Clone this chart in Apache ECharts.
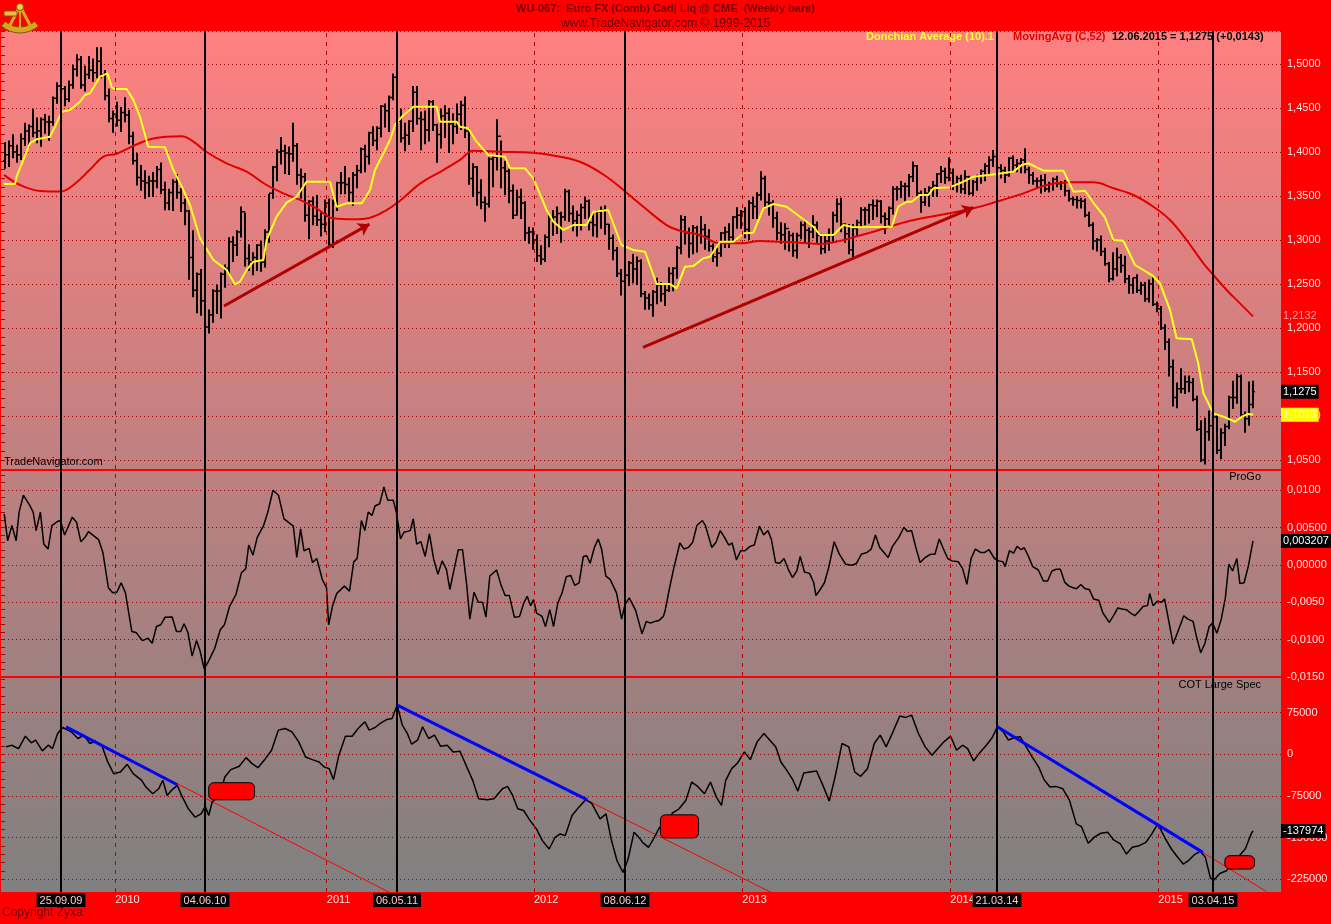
<!DOCTYPE html>
<html><head><meta charset="utf-8">
<script src="https://cdn.jsdelivr.net/npm/echarts/dist/echarts.min.js"></script>
<style>html,body{margin:0;padding:0;background:#808080;overflow:hidden}#chart{width:1331px;height:924px}</style>
</head><body><div id="chart"></div>
<script>
// ---------- DATA (weekly bars, week index 0 = 19.06.2009 ... 312 = 12.06.2015) ----------
const firstOpen = 1.390;
const closes = [
1.397,1.407,1.400,1.397,1.415,1.424,1.429,1.422,1.424,1.437,
1.434,1.434,1.461,1.475,1.472,1.460,1.476,1.494,1.505,1.476,
1.488,1.493,1.490,1.503,1.488,1.464,1.438,1.443,1.436,1.445,
1.442,1.418,1.390,1.371,1.367,1.365,1.367,1.367,1.380,1.357,
1.342,1.354,1.366,1.354,1.342,1.333,1.280,1.243,1.261,1.231,
1.201,1.215,1.242,1.242,1.261,1.268,1.298,1.294,1.309,1.332,
1.279,1.275,1.280,1.294,1.275,1.309,1.353,1.383,1.400,1.401,
1.399,1.398,1.407,1.374,1.372,1.328,1.344,1.327,1.323,1.318,
1.342,1.295,1.342,1.365,1.365,1.363,1.354,1.374,1.379,1.403,
1.395,1.422,1.413,1.427,1.452,1.447,1.462,1.485,1.435,1.416,
1.419,1.435,1.468,1.438,1.437,1.425,1.457,1.431,1.420,1.441,
1.444,1.432,1.429,1.443,1.453,1.424,1.370,1.383,1.354,1.343,
1.341,1.392,1.394,1.418,1.382,1.378,1.356,1.328,1.349,1.342,
1.308,1.309,1.300,1.282,1.278,1.303,1.324,1.326,1.330,1.326,
1.355,1.330,1.322,1.328,1.337,1.344,1.320,1.317,1.332,1.334,
1.318,1.302,1.288,1.262,1.253,1.260,1.274,1.267,1.276,1.239,
1.234,1.226,1.241,1.249,1.239,1.243,1.262,1.268,1.291,1.323,
1.308,1.296,1.314,1.305,1.312,1.304,1.293,1.281,1.285,1.308,
1.309,1.303,1.326,1.328,1.332,1.312,1.342,1.338,1.351,1.370,
1.343,1.342,1.325,1.308,1.306,1.313,1.305,1.288,1.305,1.317,
1.311,1.309,1.317,1.305,1.290,1.299,1.305,1.328,1.341,1.318,
1.307,1.289,1.313,1.320,1.334,1.334,1.340,1.339,1.344,1.327,
1.324,1.336,1.358,1.358,1.361,1.361,1.372,1.384,1.353,1.343,
1.353,1.359,1.362,1.375,1.378,1.371,1.376,1.363,1.370,1.358,
1.372,1.353,1.366,1.373,1.378,1.384,1.391,1.395,1.382,1.379,
1.374,1.393,1.385,1.387,1.391,1.380,1.374,1.367,1.367,1.368,
1.358,1.364,1.369,1.364,1.365,1.356,1.347,1.346,1.345,1.344,
1.328,1.317,1.299,1.300,1.287,1.273,1.256,1.267,1.280,1.271,
1.256,1.249,1.257,1.243,1.249,1.233,1.250,1.227,1.222,1.200,
1.184,1.156,1.121,1.131,1.131,1.139,1.138,1.119,1.085,1.050,
1.082,1.089,1.099,1.061,1.081,1.088,1.121,1.121,1.145,1.101,
1.097,1.1132,1.1275];
const highs = [
1.410,1.412,1.419,1.407,1.420,1.432,1.430,1.448,1.438,1.438,
1.442,1.440,1.462,1.478,1.488,1.474,1.480,1.498,1.510,1.508,
1.497,1.508,1.505,1.518,1.518,1.492,1.471,1.446,1.456,1.450,
1.461,1.447,1.422,1.398,1.384,1.378,1.372,1.376,1.383,1.387,
1.365,1.357,1.368,1.374,1.358,1.346,1.333,1.310,1.262,1.266,
1.237,1.220,1.243,1.248,1.262,1.271,1.302,1.303,1.310,1.337,
1.330,1.294,1.285,1.294,1.298,1.311,1.351,1.383,1.402,1.416,
1.407,1.405,1.432,1.409,1.380,1.375,1.344,1.348,1.350,1.330,
1.345,1.346,1.345,1.365,1.376,1.383,1.370,1.376,1.384,1.404,
1.407,1.422,1.428,1.428,1.452,1.454,1.463,1.488,1.498,1.448,
1.432,1.435,1.474,1.474,1.445,1.446,1.458,1.458,1.431,1.448,
1.452,1.449,1.443,1.454,1.457,1.462,1.426,1.386,1.383,1.368,
1.348,1.393,1.394,1.436,1.412,1.389,1.380,1.362,1.356,1.357,
1.343,1.314,1.313,1.305,1.293,1.305,1.329,1.333,1.337,1.331,
1.357,1.356,1.338,1.332,1.340,1.348,1.345,1.329,1.333,1.337,
1.338,1.317,1.305,1.291,1.266,1.266,1.275,1.283,1.280,1.277,
1.241,1.238,1.242,1.256,1.251,1.248,1.268,1.268,1.292,1.327,
1.326,1.313,1.316,1.315,1.326,1.317,1.311,1.295,1.290,1.308,
1.314,1.318,1.326,1.336,1.333,1.336,1.344,1.348,1.353,1.377,
1.372,1.352,1.344,1.331,1.319,1.318,1.309,1.307,1.307,1.320,
1.322,1.313,1.327,1.320,1.306,1.304,1.312,1.331,1.346,1.347,
1.318,1.317,1.317,1.322,1.336,1.336,1.340,1.345,1.345,1.344,
1.330,1.337,1.360,1.360,1.366,1.364,1.374,1.388,1.384,1.355,
1.358,1.360,1.366,1.375,1.383,1.381,1.393,1.380,1.372,1.373,
1.378,1.372,1.367,1.373,1.379,1.386,1.394,1.401,1.399,1.385,
1.382,1.393,1.395,1.391,1.392,1.403,1.382,1.376,1.370,1.373,
1.374,1.365,1.370,1.372,1.366,1.367,1.356,1.348,1.349,1.347,
1.346,1.331,1.319,1.301,1.304,1.290,1.274,1.285,1.290,1.283,
1.281,1.259,1.256,1.260,1.251,1.251,1.254,1.258,1.229,1.224,
1.203,1.187,1.163,1.137,1.153,1.145,1.145,1.142,1.122,1.094,
1.097,1.105,1.100,1.100,1.085,1.090,1.122,1.139,1.147,1.146,
1.104,1.138,1.139];
const lows = [
1.382,1.384,1.394,1.389,1.392,1.408,1.406,1.418,1.411,1.407,
1.422,1.414,1.431,1.456,1.463,1.453,1.458,1.473,1.487,1.473,
1.470,1.484,1.481,1.485,1.485,1.460,1.435,1.423,1.430,1.424,
1.435,1.410,1.387,1.363,1.357,1.348,1.350,1.350,1.360,1.353,
1.335,1.335,1.334,1.348,1.333,1.318,1.256,1.236,1.218,1.215,
1.191,1.195,1.207,1.217,1.212,1.247,1.262,1.276,1.283,1.304,
1.271,1.266,1.261,1.266,1.265,1.270,1.298,1.348,1.368,1.387,
1.376,1.375,1.390,1.364,1.348,1.322,1.302,1.318,1.317,1.305,
1.310,1.294,1.292,1.334,1.353,1.353,1.345,1.340,1.360,1.377,
1.378,1.387,1.408,1.403,1.418,1.429,1.424,1.460,1.432,1.412,
1.402,1.409,1.424,1.432,1.403,1.410,1.413,1.425,1.389,1.405,
1.417,1.400,1.410,1.422,1.426,1.417,1.364,1.350,1.340,1.336,
1.322,1.338,1.361,1.380,1.360,1.352,1.343,1.325,1.329,1.325,
1.300,1.297,1.290,1.276,1.273,1.276,1.293,1.306,1.308,1.298,
1.323,1.322,1.311,1.305,1.312,1.325,1.312,1.305,1.304,1.314,
1.307,1.290,1.278,1.259,1.238,1.246,1.249,1.252,1.250,1.236,
1.222,1.222,1.214,1.228,1.231,1.226,1.242,1.243,1.257,1.285,
1.296,1.281,1.285,1.287,1.297,1.290,1.288,1.276,1.271,1.282,
1.292,1.292,1.297,1.314,1.314,1.303,1.301,1.325,1.325,1.346,
1.338,1.329,1.315,1.301,1.297,1.290,1.288,1.282,1.280,1.302,
1.297,1.292,1.303,1.298,1.285,1.286,1.289,1.298,1.321,1.310,
1.298,1.285,1.281,1.305,1.316,1.318,1.320,1.324,1.327,1.320,
1.308,1.318,1.330,1.346,1.349,1.345,1.350,1.367,1.351,1.332,
1.340,1.339,1.350,1.350,1.366,1.365,1.368,1.358,1.355,1.354,
1.353,1.352,1.351,1.357,1.365,1.368,1.374,1.384,1.377,1.371,
1.366,1.373,1.379,1.378,1.377,1.377,1.365,1.364,1.360,1.354,
1.356,1.355,1.357,1.361,1.358,1.351,1.345,1.340,1.337,1.337,
1.327,1.316,1.290,1.288,1.283,1.272,1.253,1.255,1.260,1.264,
1.252,1.240,1.240,1.241,1.239,1.231,1.230,1.226,1.219,1.199,
1.176,1.146,1.112,1.110,1.127,1.126,1.128,1.118,1.084,1.049,
1.046,1.073,1.076,1.058,1.052,1.067,1.086,1.109,1.115,1.100,
1.082,1.090,1.110];

// MovingAvg (C,52): [week, value]
const maPoints = [[-0.25,1.374],[3.75,1.3625],[8.75,1.3557],[13.75,1.355],[17.1,1.3625],[21.25,1.380],[24.6,1.3947],[27.9,1.398],[32.1,1.407],[36.25,1.4144],[40.4,1.4174],[44.2,1.418],[47.1,1.4117],[50.4,1.400],[55.4,1.387],[60.4,1.3777],[65.4,1.3625],[69.6,1.353],[73.75,1.3455],[77.9,1.336],[82.1,1.3246],[87.1,1.3235],[91.25,1.3253],[95.4,1.334],[98.75,1.3445],[103.75,1.364],[109.6,1.3795],[113.75,1.391],[117.1,1.4015],[123.75,1.4004],[132.1,1.3992],[138.75,1.3947],[144.6,1.3872],[150.4,1.3719],[154.6,1.3568],[159.6,1.3378],[165.4,1.317],[168.75,1.3106],[173.75,1.3057],[178.75,1.2962],[183.75,1.2962],[188.75,1.2989],[193.75,1.298],[198.75,1.297],[203.75,1.2955],[208.75,1.299],[212,1.303],[217.1,1.3094],[225.4,1.3208],[233.75,1.3284],[242.1,1.336],[247.9,1.3435],[254.6,1.353],[260.4,1.3625],[265.4,1.3655],[272.1,1.3655],[277.1,1.3588],[282.1,1.3511],[287.1,1.3378],[291.25,1.3227],[295.4,1.30],[299.6,1.2735],[302.1,1.2602],[305.4,1.2432],[308.75,1.228],[312,1.2132]];

// Donchian Average (10)
const donchianPoints = [[-0.25,1.3636],[2.5,1.3636],[2.9,1.372],[4.6,1.391],[6.25,1.41],[7.9,1.4144],[11.25,1.4174],[12.5,1.4288],[14.2,1.4458],[16.25,1.4477],[18.75,1.4572],[20,1.4648],[21.25,1.4667],[23.75,1.4856],[25.6,1.4894],[26.7,1.4735],[27.5,1.4716],[30.4,1.4716],[32.1,1.459],[33.75,1.440],[35.8,1.406],[40,1.4053],[42.1,1.3795],[44.2,1.3606],[46.25,1.3398],[48.75,1.302],[52.1,1.2773],[55.4,1.266],[57.5,1.2497],[58.75,1.2527],[60.4,1.266],[62.1,1.2754],[64.6,1.2773],[65.4,1.30],[67.9,1.3265],[70.4,1.3424],[72.9,1.3492],[75.4,1.3663],[81.25,1.3663],[82.9,1.3378],[85.4,1.3417],[89.2,1.3417],[91.25,1.3568],[92.5,1.3795],[94.6,1.3985],[96.25,1.4136],[97.5,1.4307],[99.2,1.440],[102.1,1.4515],[107.9,1.4515],[108.75,1.4344],[112.9,1.4344],[113.75,1.4288],[115.8,1.4269],[117.9,1.4117],[120.8,1.3966],[125,1.3947],[126.25,1.3814],[130,1.3814],[132.1,1.3701],[135.4,1.3341],[137.1,1.3208],[139.6,1.3114],[142.1,1.317],[145.4,1.317],[147.1,1.3322],[150.8,1.3341],[154.1,1.2943],[157.1,1.2886],[160,1.2867],[162.9,1.25],[166.25,1.25],[167.9,1.2451],[170,1.2697],[172.1,1.2705],[174.6,1.2792],[176.25,1.281],[178.75,1.298],[182.1,1.298],[184.6,1.3076],[187.1,1.3083],[189.6,1.336],[192.1,1.3409],[195.4,1.3378],[198.75,1.3265],[202.1,1.3151],[203.75,1.3057],[207.1,1.3057],[209.6,1.317],[212.1,1.3144],[221.7,1.3151],[223.3,1.3378],[225.4,1.3435],[226.7,1.3435],[228.75,1.3511],[230.8,1.3511],[232.1,1.3588],[236.25,1.3599],[239.6,1.3663],[242.1,1.372],[248,1.375],[252.1,1.3777],[254.2,1.3852],[255.8,1.3872],[259.6,1.3788],[264.6,1.3788],[267.1,1.3549],[270,1.356],[272.5,1.3398],[275,1.3258],[277.1,1.30],[279.6,1.2992],[282.5,1.2716],[286.7,1.2602],[288.75,1.2508],[291.25,1.2205],[292.9,1.1883],[296.7,1.1872],[298.3,1.1599],[299.6,1.1258],[302.1,1.103],[304.6,1.0992],[307.5,1.0935],[309.2,1.0992],[310.8,1.1023],[312,1.1013]];

// ProGo indicator
const proGoPoints = [[-0.19,0.00684],[0.66,0.00324],[1.73,0.00527],[2.79,0.00324],[3.53,0.00707],[4.6,0.00932],[6.19,0.00797],[7.04,0.00707],[7.78,0.00459],[8.85,0.00707],[9.7,0.00279],[10.76,0.00212],[11.72,0.00527],[13.1,0.00581],[13.84,0.00594],[14.9,0.00401],[16.82,0.00639],[17.88,0.00572],[18.95,0.00311],[20.01,0.00369],[20.86,0.00446],[22.13,0.00392],[23.41,0.00338],[24.47,0.00167],[25.85,-0.00306],[26.92,-0.00374],[27.98,-0.00365],[29.04,-0.00239],[30.11,-0.00374],[31.7,-0.00891],[32.76,-0.00905],[34.36,-0.01013],[35.74,-0.00981],[36.8,-0.01049],[37.87,-0.00824],[38.93,-0.00801],[39.99,-0.00702],[41.8,-0.00698],[42.86,-0.00891],[43.92,-0.00891],[44.77,-0.00788],[45.73,-0.00905],[46.79,-0.0122],[47.86,-0.01013],[48.71,-0.01139],[49.77,-0.01386],[50.83,-0.01296],[52.43,-0.01116],[53.81,-0.00869],[54.87,-0.00801],[56.15,-0.00554],[57.74,-0.00396],[59.12,-0.00104],[60.19,-0.0005],[60.93,0.00266],[62.0,0.00131],[63.06,0.00369],[64.65,0.00527],[65.71,0.00707],[66.99,0.00999],[68.37,0.00932],[69.75,0.00617],[72.09,0.00518],[72.94,0.00099],[73.9,0.00482],[74.75,0.00189],[76.03,0.00221],[76.88,0.00032],[77.94,0.00086],[79.32,-0.00194],[80.38,-0.00306],[80.91,-0.00801],[81.87,-0.00554],[82.93,-0.00383],[84.85,-0.00284],[86.12,-0.00351],[87.19,0.00041],[88.04,0.00086],[89.1,0.00594],[89.95,0.00459],[90.8,0.00707],[91.76,0.00662],[92.5,0.00788],[93.67,0.00819],[94.73,0.01044],[95.69,0.00864],[97.07,0.00864],[97.82,0.00707],[98.88,0.00347],[99.73,0.00437],[101.32,0.00459],[102.07,0.00617],[102.92,0.00279],[103.98,0.00311],[105.04,0.00113],[106.1,0.00414],[107.17,0.00077],[108.23,-0.00126],[109.29,0.00054],[110.36,-0.00059],[111.21,-0.00329],[112.27,-0.00059],[113.33,0.00203],[114.4,0.00203],[115.46,-0.00284],[116.2,-0.00725],[117.27,-0.00365],[118.33,-0.005],[119.39,-0.005],[120.24,-0.00698],[121.2,-0.00149],[122.9,-0.00068],[123.96,-0.00261],[125.03,-0.0041],[126.09,-0.0041],[127.36,-0.00702],[128.64,-0.00689],[129.7,-0.00509],[130.55,-0.00419],[131.4,-0.00545],[132.15,-0.00464],[132.89,-0.00644],[134.27,-0.00689],[135.12,-0.00824],[136.19,-0.00599],[137.14,-0.00824],[138.21,-0.00509],[139.27,-0.00374],[140.33,-0.00158],[141.4,-0.0014],[142.46,-0.00275],[143.52,-0.00239],[144.59,0.00113],[145.44,0.00122],[146.28,0.00023],[147.35,0.00234],[148.3,0.00347],[149.15,0.00212],[150.22,-0.00149],[151.28,-0.00194],[152.87,-0.00374],[154.15,-0.00725],[155.0,-0.00531],[156.06,-0.00441],[157.66,-0.00608],[159.25,-0.00923],[160.31,-0.00756],[161.38,-0.00779],[162.44,-0.00756],[163.5,-0.00743],[164.57,-0.00689],[165.0,-0.00621],[166.06,-0.00329],[167.13,-0.00059],[168.72,0.00293],[169.78,0.00212],[170.85,0.00234],[171.91,0.00302],[172.97,0.00527],[174.35,0.00594],[175.1,0.00527],[176.69,0.00234],[177.76,0.00302],[178.82,0.00459],[179.88,0.00369],[180.94,0.00266],[181.79,0.00293],[182.86,0.00068],[183.92,0.00189],[184.98,0.00189],[186.26,0.00248],[187.32,0.00266],[188.6,0.00518],[189.66,0.00401],[190.72,0.00459],[191.57,0.00347],[192.64,0.00032],[193.7,0.00023],[194.76,0.00086],[195.82,-0.00059],[196.89,-0.00171],[197.95,-0.00081],[198.8,0.00113],[199.86,-0.00095],[201.14,-0.00113],[202.2,-0.00239],[202.73,-0.0041],[203.8,-0.00329],[204.86,-0.00239],[205.92,-0.00036],[207.3,0.00311],[208.58,0.00144],[210.17,0.00009],[211.77,-0.00005],[212.83,0.00018],[214.11,0.00144],[215.49,0.00167],[216.55,0.00212],[217.61,0.00401],[218.68,0.00234],[219.74,0.00167],[220.8,0.00099],[221.87,0.00248],[223.46,0.00369],[224.74,0.00504],[225.59,0.00446],[226.65,0.00459],[227.71,0.00234],[228.78,0.00032],[230.05,0.00099],[231.43,0.00144],[232.5,0.00144],[233.56,0.00347],[234.62,0.00212],[235.68,0.00086],[236.75,0.00054],[238.34,0.00041],[239.4,-0.0005],[240.47,-0.00261],[241.53,0.00086],[242.59,0.00212],[243.87,0.00167],[244.93,0.00167],[246.0,0.00203],[247.38,0.00086],[248.44,0.00054],[249.5,0.00041],[250.03,-0.00023],[251.1,0.00189],[252.16,0.00158],[253.01,0.00248],[254.07,0.00203],[254.82,0.0023],[255.88,0.00113],[256.94,-0.00023],[258.33,-0.00068],[259.6,-0.00216],[260.66,-0.00216],[261.73,-0.00081],[262.79,-0.00059],[263.85,-0.00059],[264.91,-0.0023],[265.98,-0.00284],[267.04,-0.00306],[267.89,-0.0032],[268.95,-0.00261],[270.02,-0.0032],[271.08,-0.00329],[272.14,-0.00455],[273.42,-0.00473],[274.48,-0.00644],[276.07,-0.0077],[277.14,-0.0068],[278.2,-0.00576],[279.26,-0.0059],[280.33,-0.00599],[281.39,-0.00644],[282.45,-0.0068],[283.52,-0.00621],[284.58,-0.00554],[285.64,-0.00545],[286.17,-0.00383],[287.02,-0.00545],[288.09,-0.00486],[289.15,-0.005],[289.89,-0.00455],[290.96,-0.00756],[292.02,-0.01058],[293.4,-0.00869],[294.68,-0.0068],[295.74,-0.00725],[297.02,-0.00756],[297.87,-0.00959],[298.93,-0.01175],[299.99,-0.01049],[301.05,-0.00824],[301.9,-0.00779],[302.97,-0.00914],[304.03,-0.00734],[305.09,-0.00441],[305.94,0.00009],[306.9,-0.00081],[307.96,0.00086],[308.71,-0.00248],[309.77,-0.00239],[310.84,-0.00014],[312,0.003207]];

// COT Large Spec (net contracts)
const cotPoints = [[0.21,13253],[1.7,16265],[3.39,10241],[5.09,32530],[6.58,20482],[7.64,25301],[9.34,6024],[10.82,16265],[11.88,10241],[13.16,37349],[14.43,48192],[16.55,40361],[18.25,28313],[19.74,34337],[21.22,19277],[22.5,23494],[24.19,16265],[25.68,-13855],[27.16,-34939],[28.86,-31927],[30.56,-18072],[32.05,-34939],[34.17,-46987],[35.23,-59035],[36.93,-71083],[38.41,-62047],[39.47,-46987],[40.53,-74095],[41.6,-65059],[43.08,-56023],[44.14,-74095],[45.84,-98191],[47.54,-113251],[49.02,-107227],[50.08,-93974],[50.93,-110239],[51.78,-86143],[52.84,-78312],[53.9,-68071],[54.96,-40963],[56.45,-27710],[58.57,-21686],[60.27,-6024],[61.76,-16867],[63.24,-24096],[64.94,-9638],[66.64,7229],[68.33,43373],[70.03,46385],[71.73,40361],[73.43,22289],[75.13,-4819],[76.82,-9638],[78.52,-13855],[79.8,-22891],[81.07,-25903],[82.13,-45782],[83.4,-3614],[85.1,32530],[86.8,32530],[88.28,46385],[89.98,58433],[91.04,43373],[92.53,48192],[94.02,56626],[95.5,62650],[96.77,64457],[98.05,88553],[99.32,52409],[100.59,37349],[101.65,18072],[103.14,25301],[104.41,49397],[105.9,28313],[107.38,34337],[108.87,14458],[110.57,16265],[112.05,4217],[113.75,5422],[115.45,-22891],[116.93,-46987],[118.42,-80119],[120.54,-81926],[122.24,-80119],[124.36,-62047],[125.64,-57830],[126.91,-74095],[128.18,-98191],[129.67,-101203],[131.15,-118070],[132.85,-134335],[134.34,-155419],[136.04,-170479],[137.52,-149395],[138.79,-143371],[140.07,-146383],[141.76,-110239],[143.46,-95179],[145.16,-81926],[146.65,-87950],[148.77,-116263],[150.26,-107227],[151.53,-152407],[153.01,-191563],[154.5,-212647],[155.77,-188551],[157.26,-140359],[158.32,-148190],[159.38,-158431],[160.87,-167467],[162.14,-152407],[163.63,-131323],[165.11,-140359],[166.81,-106023],[168.51,-98191],[170.2,-83131],[171.69,-49999],[173.17,-57830],[174.87,-71083],[176.36,-49999],[177.84,-77107],[179.12,-92167],[180.18,-46987],[181.67,-25903],[183.15,-15662],[184.85,4217],[186.33,-9638],[188.03,22289],[189.73,37349],[191.22,25301],[192.7,13253],[193.97,-13855],[195.46,-28915],[196.94,-45782],[198.22,-66264],[199.7,-33734],[201.19,-31927],[202.89,-30120],[204.58,-57830],[206.07,-84336],[207.55,-39758],[209.25,19277],[210.95,13253],[212.44,-31927],[213.92,-39758],[215.62,-25903],[217.32,19277],[218.8,34337],[220.29,13253],[221.99,40361],[223.68,68674],[225.17,66264],[226.65,70481],[228.35,37349],[230.05,13253],[231.75,-1807],[233.23,10241],[234.72,22289],[236.41,32530],[237.9,7229],[239.38,16265],[240.66,10241],[242.15,-12048],[243.63,2410],[245.33,16265],[246.82,30120],[248.09,49397],[249.58,40361],[250.85,25301],[252.33,30120],[253.82,31325],[255.3,13253],[256.79,-4819],[258.49,-24096],[259.76,-45782],[261.24,-59035],[262.73,-57830],[264.43,-62047],[266.13,-83131],[267.83,-125299],[269.1,-130118],[270.8,-160238],[272.5,-148190],[273.98,-142166],[275.68,-140359],[277.17,-154214],[278.85,-161443],[280.35,-179515],[281.83,-167467],[283.53,-164455],[285.23,-158431],[286.71,-143371],[288.2,-125299],[289.9,-149395],[291.6,-170479],[293.08,-184334],[294.57,-197587],[295.84,-191563],[297.33,-180720],[298.82,-174696],[300.09,-185539],[301.36,-222888],[302.2,-226502],[303.69,-214454],[305.39,-209635],[306.87,-191563],[308.57,-182527],[310.06,-170479],[311.54,-143371],[312,-137974]];

// annotations (data space)
const priceArrows = [[[54.75,1.225],[91.1,1.318]],[[159.5,1.178],[242.1,1.337]]];
const cotTrendlines = [[[15.28,49397],[43.08,-54818]],[[98.05,88553],[145.58,-81926]],[[248.09,49397],[299.45,-176503]]];
const cotExtensions = [[[15.28,49397],[96.2,-249000]],[[98.05,88553],[191.64,-249000]],[[248.09,49397],[315.37,-246984]]];
const cotSignalBoxes = [[50.93,62.39,-51204,-81926],[163.84,173.39,-109034,-150600],[304.96,312.39,-182527,-206623]];
const eventLines = [[14,'25.09.09'],[50,'04.06.10'],[98,'06.05.11'],[155,'08.06.12'],[248,'21.03.14'],[302,'03.04.15']];
const yearLines = [[27.6,'2010'],[80.4,'2011'],[132.3,'2012'],[184.4,'2013'],[236.4,'2014'],[288.4,'2015']];
const proGoTickLabels = [[0.01,'0,0100'],[0.005,'0,00500'],[0,'0,00000'],[-0.005,'-0,0050'],[-0.01,'-0,0100'],[-0.015,'-0,0150']];

// ---------- CHART ----------
const FONT = '"Liberation Sans", Arial, sans-serif';
const ohlc = closes.map((c, k) => [k, k === 0 ? firstOpen : closes[k - 1], highs[k], lows[k], c]);
const X = {type:'value', min:-1.25, max:319, show:false};
const tickStyle = {show:true, inside:true, length:10, lineStyle:{color:'#B00000', width:1}};
const minorStyle = {show:true, splitNumber:5, length:5, lineStyle:{color:'#B00000', width:1}};
const gridLine = {show:true, lineStyle:{type:[1,3], color:'#A00000', width:1}};
const lblBase = {color:'#FFE6E6', fontSize:11, fontFamily:FONT, margin:6, showMaxLabel:false};

const chart = echarts.init(document.getElementById('chart'), null, {renderer:'canvas'});

function staticGraphics() {
  const T = (x, y, text, fill, font, align) => ({type:'text', x, y, z:3,
    style:{text, fill, font, align:align||'left', textAlign:align||'left', verticalAlign:'middle', textVerticalAlign:'middle'}});
  const gold = '#D9A520', dark = '#7A5A10';
  return [
    {type:'rect', z:-10, shape:{x:0,y:31,width:1331,height:861}, style:{fill:new echarts.graphic.LinearGradient(0,0,0,1,[{offset:0,color:'#FF8080'},{offset:1,color:'#808080'}])}},
    {type:'rect', z:-5, shape:{x:0,y:0,width:1331,height:31}, style:{fill:'#FF0000'}},
    {type:'rect', z:-5, shape:{x:1281,y:0,width:50,height:924}, style:{fill:'#FF0000'}},
    {type:'rect', z:-5, shape:{x:0,y:892,width:1331,height:32}, style:{fill:'#FF0000'}},
    {type:'rect', z:-5, shape:{x:0,y:31,width:1,height:861}, style:{fill:'#FF0000'}},
    {type:'rect', z:1, shape:{x:0,y:469,width:1281,height:2}, style:{fill:'#FF0000'}},
    {type:'rect', z:1, shape:{x:0,y:676,width:1281,height:2}, style:{fill:'#FF0000'}},
    // sextant logo
    {type:'sector', z:3, shape:{cx:20,cy:5,r:28,r0:22,startAngle:Math.PI*0.27,endAngle:Math.PI*0.73}, style:{fill:gold, stroke:dark, lineWidth:1}},
    {type:'polyline', z:3, shape:{points:[[8,29],[20,6],[32,29]]}, style:{stroke:gold, lineWidth:3, fill:null}},
    {type:'line', z:3, shape:{x1:20,y1:6,x2:20,y2:30}, style:{stroke:gold, lineWidth:2}},
    {type:'rect', z:4, shape:{x:4,y:11,width:13,height:5,r:1}, style:{fill:'#E8C048', stroke:dark, lineWidth:1}},
    {type:'circle', z:4, shape:{cx:20,cy:7,r:3.5}, style:{fill:'#F4D03F', stroke:dark, lineWidth:1}},
    T(665.5, 9, 'WU-067:  Euro FX (Comb) Cadj Liq @ CME  (Weekly bars)', '#7A0000', 'bold 11px '+FONT, 'center'),
    T(665.5, 24, 'www.TradeNavigator.com \u00A9 1999-2015', '#6A0000', '12px '+FONT, 'center'),
    T(866, 37, 'Donchian Average (10).1', '#FFFF33', 'bold 11px '+FONT),
    T(1013, 37, 'MovingAvg (C,52)', '#E00000', 'bold 11px '+FONT),
    T(1112, 37, '12.06.2015 = 1,1275 (+0,0143)', '#000000', 'bold 11px '+FONT),
    T(4, 462, 'TradeNavigator.com', '#000000', '11px '+FONT),
    T(1261, 477, 'ProGo', '#000000', '11px '+FONT, 'right'),
    T(1261, 685, 'COT Large Spec', '#000000', '11px '+FONT, 'right'),
    T(2, 913, 'Copyright Zyxa', '#700000', '12px '+FONT)
  ];
}

const lineS = (name, xi, data, color, width, extra) => Object.assign({
  name, type:'line', xAxisIndex:xi, yAxisIndex:xi, data, showSymbol:false, symbol:'none', clip:false, silent:true,
  lineStyle:{color, width}, z:4, animation:false}, extra||{});

const series = [
  {type:'custom', xAxisIndex:0, yAxisIndex:0, data:ohlc, clip:false, silent:true, z:3,
   encode:{x:0, y:[1,2,3,4]},
   renderItem:(params, api) => {
     const k = api.value(0);
     const po = api.coord([k, api.value(1)]), ph = api.coord([k, api.value(2)]);
     const pl = api.coord([k, api.value(3)]), pc = api.coord([k, api.value(4)]);
     return {type:'group', children:[
       {type:'line', shape:{x1:ph[0], y1:ph[1]-1, x2:pl[0], y2:pl[1]+1}, style:{stroke:'#000', lineWidth:2}},
       {type:'line', shape:{x1:po[0]-2, y1:po[1], x2:po[0], y2:po[1]}, style:{stroke:'#000', lineWidth:1.5}},
       {type:'line', shape:{x1:pc[0], y1:pc[1], x2:pc[0]+2, y2:pc[1]}, style:{stroke:'#000', lineWidth:1.5}}
     ]};
   }},
  lineS('MovingAvg (C,52)', 0, maPoints, '#E00000', 2, {smooth:0.4}),
  lineS('Donchian Average (10)', 0, donchianPoints, '#FFFF20', 2),
  lineS('arrows', 0, [[-10, 1.3]], '#B00000', 0, {markLine:{silent:true, animation:false, symbol:['none','arrow'], symbolSize:11,
     label:{show:false}, lineStyle:{color:'#B00000', width:3, type:'solid'},
     data: priceArrows.map(a => [{coord:a[0]}, {coord:a[1]}])}}),
  lineS('ProGo', 1, proGoPoints, '#000000', 1.5),
  ...cotExtensions.map((l, i) => lineS('ext'+i, 2, l, '#FF0000', 1, {z:3})),
  ...cotTrendlines.map((l, i) => lineS('trend'+i, 2, l, '#0000FF', 3, {z:5})),
  lineS('COT Large Spec', 2, cotPoints, '#000000', 1.5, {z:4}),
  {type:'custom', xAxisIndex:2, yAxisIndex:2, data:cotSignalBoxes, clip:false, silent:true, z:6,
   encode:{x:[0,1], y:[2,3]},
   renderItem:(params, api) => {
     const a = api.coord([api.value(0), api.value(2)]), b = api.coord([api.value(1), api.value(3)]);
     return {type:'rect', shape:{x:a[0], y:a[1], width:b[0]-a[0], height:b[1]-a[1], r:5}, style:{fill:'#FF0000', stroke:'#000', lineWidth:1}};
   }},
  lineS('years', 3, [[-10, 0.5]], '#000', 0, {z:1, markLine:{silent:true, animation:false, symbol:['none','none'],
     data: yearLines.map(y => ({xAxis:y[0], lineStyle:{color:'#C00000', width:1, type:[4,5]},
       label:{show:true, position:'start', formatter:y[1], color:'#FFE6E6', fontSize:11, fontFamily:FONT, padding:[0,0,0,24], distance:2}}))}}),
  lineS('events', 3, [[-10, 0.5]], '#000', 0, {z:7, markLine:{silent:true, animation:false, symbol:['none','none'],
     data: eventLines.map(e => ({xAxis:e[0], lineStyle:{color:'#000000', width:2, type:'solid'},
       label:{show:true, position:'start', formatter:e[1], color:'#FFC8C8', backgroundColor:'#000', fontSize:11, fontFamily:FONT, padding:[2,3,1,3], distance:1}}))}})
];

const option = {
  animation:false,
  backgroundColor:'transparent',
  grid:[
    {left:0, width:1281, top:31, height:429},
    {left:0, width:1281, top:470, height:207},
    {left:0, width:1281, top:677, height:202.3},
    {left:0, width:1281, top:31, height:861}
  ],
  xAxis:[0,1,2,3].map(i => Object.assign({gridIndex:i}, X)),
  yAxis:[
    {gridIndex:0, type:'value', position:'right', min:1.05, max:1.5375, interval:0.05, axisLine:{show:false},
     axisTick:tickStyle, minorTick:minorStyle, splitLine:gridLine,
     axisLabel:Object.assign({}, lblBase, {formatter:v => v.toFixed(4).replace('.', ',')})},
    {gridIndex:1, type:'value', position:'right', min:-0.015, max:0.0127, interval:0.005, axisLine:{show:false},
     axisTick:tickStyle, minorTick:minorStyle, splitLine:gridLine,
     axisLabel:Object.assign({}, lblBase, {formatter:v => { const t = proGoTickLabels.find(p => Math.abs(p[0]-v) < 1e-9); return t ? t[1] : ''; }})},
    {gridIndex:2, type:'value', position:'right', min:-225000, max:139000, interval:75000, axisLine:{show:false},
     axisTick:tickStyle, minorTick:minorStyle, splitLine:gridLine,
     axisLabel:Object.assign({}, lblBase, {formatter:v => String(Math.round(v))})},
    {gridIndex:3, type:'value', min:0, max:1, show:false}
  ],
  graphic:{elements:staticGraphics()},
  series
};
chart.setOption(option);

// value boxes on the right axis, positioned through the library's scales
const px = (g, pt) => chart.convertToPixel({gridIndex:g}, pt);
const maLast = maPoints[maPoints.length-1], dcLast = donchianPoints[donchianPoints.length-1];
const pgLast = proGoPoints[proGoPoints.length-1], cotLast = cotPoints[cotPoints.length-1];
const box = (y, text, bg, fill) => ({type:'text', x:1281, y, z:20,
  style:{text, fill, font:'11px '+FONT, backgroundColor:bg, padding:[2,2,1,2], align:'left', textAlign:'left', verticalAlign:'middle', textVerticalAlign:'middle'}});
const dyn = [
  {type:'text', x:1283, y:px(0,[312, maLast[1]])[1], z:20, style:{text:maLast[1].toFixed(4).replace('.', ','), fill:'#FF9A9A', font:'11px '+FONT, verticalAlign:'middle', textVerticalAlign:'middle'}},
  box(px(0,[312, closes[312]])[1], closes[312].toFixed(4).replace('.', ','), '#000000', '#FFFFFF'),
  box(px(0,[312, dcLast[1]])[1], dcLast[1].toFixed(4).replace('.', ','), '#FFFF00', '#FFF4F4'),
  box(px(1,[312, pgLast[1]])[1], pgLast[1].toFixed(6).replace('.', ','), '#000000', '#FFFFFF'),
  box(px(2,[312, cotLast[1]])[1], String(cotLast[1]), '#000000', '#FFFFFF')
];
option.graphic = {elements:staticGraphics().concat(dyn)};
chart.setOption(option, true);
</script></body></html>
